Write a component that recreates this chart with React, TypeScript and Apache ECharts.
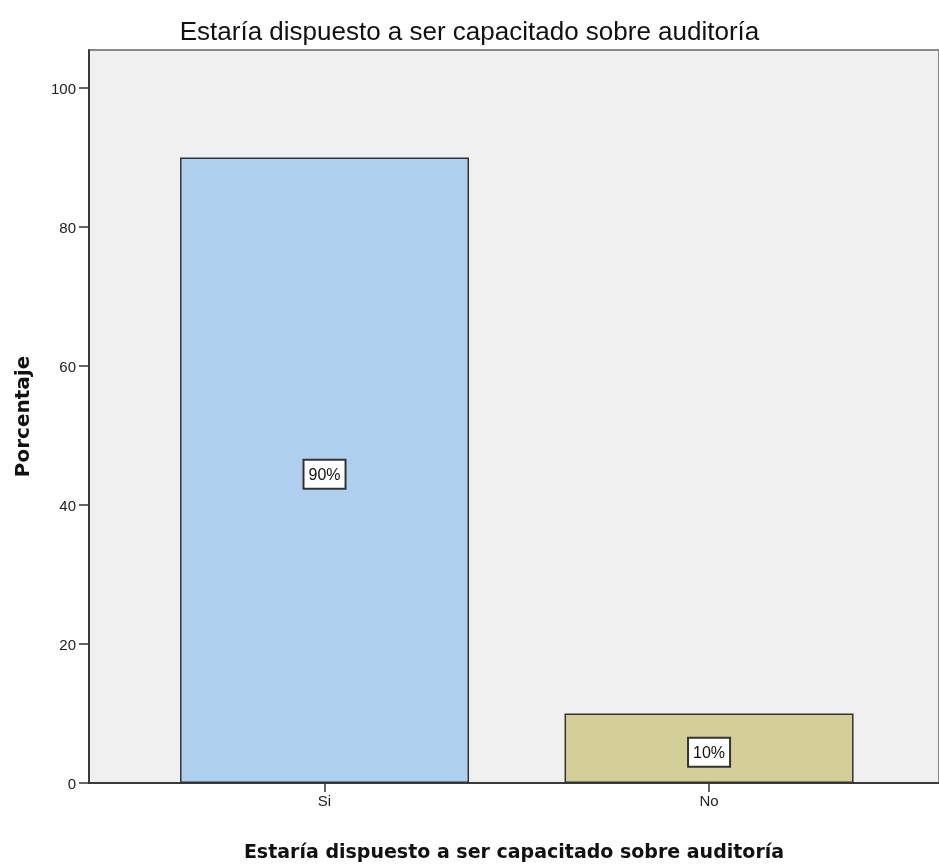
import React, { useEffect, useRef } from "react";
import * as echarts from "echarts";

const categories = ["Si", "No"];
const percentages = [90, 10];
const barColors = ["#aed0ee", "#d4cf98"];
const yTicks = [0, 20, 40, 60, 80, 100];
const titleText = "Estaría dispuesto a ser capacitado sobre auditoría";

export default function App() {
  const ref = useRef<HTMLDivElement>(null);
  useEffect(() => {
    if (!ref.current) return;
    const chart = echarts.init(ref.current, null, { renderer: "svg" });
    const positions = categories.map((_, i) => i + 1);
    chart.setOption({
      animation: false,
      title: {
        text: titleText,
        left: "center",
        top: 13,
        textStyle: {
          fontFamily: "'Liberation Sans', Arial, sans-serif",
          fontSize: 26,
          fontWeight: "normal",
          color: "#111",
        },
      },
      grid: {
        left: 89,
        top: 50,
        right: 0,
        bottom: 83,
        show: true,
        backgroundColor: "#f0f0f0",
        borderColor: "#888",
        borderWidth: 2,
      },
      xAxis: {
        type: "value",
        min: 0.3875,
        max: 2.598,
        splitLine: { show: false },
        axisLine: { show: true, lineStyle: { color: "#222", width: 1.5 } },
        axisTick: {
          show: true,
          customValues: positions,
          length: 9,
          lineStyle: { color: "#333", width: 1.5 },
        },
        axisLabel: {
          customValues: positions,
          formatter: (v: number) => categories[Math.round(v) - 1] ?? "",
          color: "#222",
          fontSize: 15,
          fontFamily: "'Liberation Sans', Arial, sans-serif",
          margin: 10,
        },
        name: titleText,
        nameLocation: "middle",
        nameGap: 58,
        nameTextStyle: {
          fontFamily: "'DejaVu Sans', sans-serif",
          fontWeight: "bold",
          fontSize: 19,
          color: "#111",
        },
      },
      yAxis: {
        type: "value",
        min: 0,
        max: 105.47,
        splitLine: { show: false },
        axisLine: { show: true, lineStyle: { color: "#222", width: 1.5 } },
        axisTick: {
          show: true,
          customValues: yTicks,
          length: 10,
          lineStyle: { color: "#333", width: 1.5 },
        },
        axisLabel: {
          customValues: yTicks,
          color: "#222",
          fontSize: 15,
          fontFamily: "'Liberation Sans', Arial, sans-serif",
          margin: 13,
        },
        name: "Porcentaje",
        nameLocation: "middle",
        nameGap: 57,
        nameTextStyle: {
          fontFamily: "'DejaVu Sans', sans-serif",
          fontWeight: "bold",
          fontSize: 20,
          color: "#111",
        },
      },
      series: [
        {
          type: "bar",
          barWidth: 289,
          data: percentages.map((v, i) => ({
            value: [positions[i], v],
            itemStyle: {
              color: barColors[i],
              borderColor: "#333",
              borderWidth: 1.5,
            },
          })),
          label: {
            show: true,
            position: "inside",
            offset: [0, 4],
            formatter: (p: any) => `${p.value[1]}%`,
            color: "#111",
            fontSize: 16,
            fontFamily: "'Liberation Sans', Arial, sans-serif",
            backgroundColor: "#fff",
            borderColor: "#333",
            borderWidth: 2,
            padding: [6, 4, 5, 4],
          },
        },
      ],
    });
    return () => chart.dispose();
  }, []);
  return (
    <div
      ref={ref}
      style={{ position: "fixed", left: 0, top: 0, width: 939, height: 866 }}
    />
  );
}
